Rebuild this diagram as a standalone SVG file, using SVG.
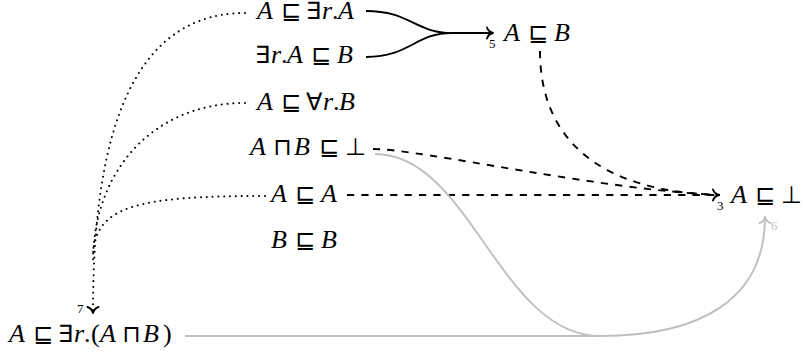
<svg xmlns="http://www.w3.org/2000/svg" width="803" height="354" viewBox="0 0 803 354">
<style>
text { font-family: "Liberation Serif", "DejaVu Serif", serif; font-size: 26px; fill: #000; }
.i { font-style: italic; }
.s { font-family: "DejaVu Sans", sans-serif; font-size: 24px; font-style: normal; }
.n { font-size: 13px; }
.g { fill: #bfbfbf; }
.solid { fill: none; stroke: #000; stroke-width: 1.9; }
.dash { fill: none; stroke: #000; stroke-width: 1.9; stroke-dasharray: 7.2 7.2; }
.dot { fill: none; stroke: #000; stroke-width: 2; stroke-dasharray: 0.01 5.8; stroke-linecap: round; }
.gray { fill: none; stroke: #bfbfbf; stroke-width: 1.9; }
.ah { fill: none; stroke-width: 1.9; stroke-dasharray: none; stroke-linecap: round; stroke-linejoin: round; }
</style>
<defs>
<marker id="ab" markerUnits="userSpaceOnUse" markerWidth="20" markerHeight="20" refX="0" refY="0" orient="auto" overflow="visible">
<path class="ah" stroke="#000" d="M-6,-5.5 C-5,-2 -2,-0.6 0,0 C-2,0.6 -5,2 -6,5.5"/>
</marker>
<marker id="ag" markerUnits="userSpaceOnUse" markerWidth="20" markerHeight="20" refX="0" refY="0" orient="auto" overflow="visible">
<path class="ah" stroke="#bfbfbf" d="M-6,-5.5 C-5,-2 -2,-0.6 0,0 C-2,0.6 -5,2 -6,5.5"/>
</marker>
</defs>

<g id="connectors">
<path class="solid" d="M366,11 C410,11 415,33 452,33"/>
<path class="solid" d="M366,57 C410,57 415,33 452,33"/>
<path class="solid" d="M450,33 L493,33" marker-end="url(#ab)"/>
<path class="dash" d="M540,51 C540,140 600,192 720,195"/>
<path class="dash" d="M373,149 C420,149 600,190 720,195"/>
<path class="dash" d="M347,195 L719,195" marker-end="url(#ab)"/>
<path class="dot" d="M245,13 C112,13 93,183 93,313" marker-end="url(#ab)"/>
<path class="dot" d="M245,103 C152,103 93,172 93,262"/>
<path class="dot" d="M265,196 C140,196 95,205 93,255"/>
<path class="gray" d="M185,336 L600,336 C700,336 765,300 765,217" marker-end="url(#ag)"/>
<path class="gray" d="M375,154 C470,154 500,336 600,336"/>
<text class="n" x="489" y="48">5</text>
<text class="n" x="717" y="210">3</text>
<text class="n g" x="771" y="230">6</text>
<text class="n" x="77" y="313">7</text>
</g>

<g id="n1"><text y="18.5"><tspan class="i" x="257">A</tspan><tspan class="s" x="281">⊑</tspan><tspan class="s" x="306">∃</tspan><tspan class="i" x="322">r</tspan><tspan x="332">.</tspan><tspan class="i" x="338">A</tspan></text></g>
<g id="n2"><text y="63"><tspan class="s" x="255">∃</tspan><tspan class="i" x="271">r</tspan><tspan x="281">.</tspan><tspan class="i" x="287">A</tspan><tspan class="s" x="311">⊑</tspan><tspan class="i" x="337">B</tspan></text></g>
<g id="n3"><text y="110"><tspan class="i" x="257">A</tspan><tspan class="s" x="281">⊑</tspan><tspan class="s" x="306">∀</tspan><tspan class="i" x="323">r</tspan><tspan x="333">.</tspan><tspan class="i" x="339">B</tspan></text></g>
<g id="n4"><text y="155"><tspan class="i" x="250">A</tspan><tspan class="s" x="273">⊓</tspan><tspan class="i" x="294">B</tspan><tspan class="s" x="319">⊑</tspan><tspan class="s" x="345">⊥</tspan></text></g>
<g id="n5"><text y="202"><tspan class="i" x="271">A</tspan><tspan class="s" x="295">⊑</tspan><tspan class="i" x="321">A</tspan></text></g>
<g id="n6"><text y="248"><tspan class="i" x="271">B</tspan><tspan class="s" x="295">⊑</tspan><tspan class="i" x="321">B</tspan></text></g>
<g id="n7"><text y="40.5"><tspan class="i" x="504">A</tspan><tspan class="s" x="528">⊑</tspan><tspan class="i" x="554">B</tspan></text></g>
<g id="n8"><text y="203"><tspan class="i" x="731">A</tspan><tspan class="s" x="755">⊑</tspan><tspan class="s" x="781">⊥</tspan></text></g>
<g id="n9"><text y="342"><tspan class="i" x="9">A</tspan><tspan class="s" x="33">⊑</tspan><tspan class="s" x="58">∃</tspan><tspan class="i" x="74">r</tspan><tspan x="84">.</tspan><tspan x="91">(</tspan><tspan class="i" x="100">A</tspan><tspan class="s" x="122">⊓</tspan><tspan class="i" x="143">B</tspan><tspan x="163">)</tspan></text></g>
</svg>
